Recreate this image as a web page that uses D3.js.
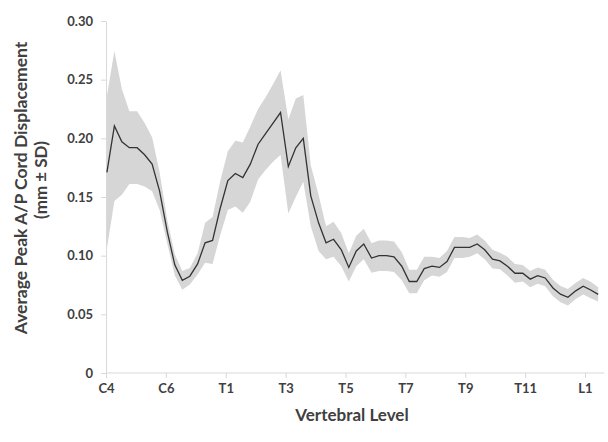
<!DOCTYPE html>
<html>
<head>
<meta charset="utf-8">
<script src="https://cdn.jsdelivr.net/npm/d3@7"></script>
<style>
  body { margin: 0; background: #fff; }
  text { font-family: Lato, "Open Sans", sans-serif; font-weight: bold; fill: #404040; }
</style>
</head>
<body>
<svg width="608" height="442"></svg>
<script>
// vertebral levels on the x axis (C4 = 0 ... L1 = 16), labelled every second level
const levelNames = ["C4", "C6", "T1", "T3", "T5", "T7", "T9", "T11", "L1"];
const levelTicks = [0, 2, 4, 6, 8, 10, 12, 14, 16];
const yTicks = [0, 0.05, 0.10, 0.15, 0.20, 0.25, 0.30];

// sample positions along the cord (vertebral level units)
const level = [0.03, 0.28, 0.53, 0.78, 1.04, 1.29, 1.54, 1.79, 2.05, 2.30,
  2.55, 2.80, 3.06, 3.31, 3.56, 3.81, 4.07, 4.32, 4.57, 4.82,
  5.08, 5.33, 5.58, 5.83, 6.09, 6.34, 6.59, 6.84, 7.10, 7.35,
  7.60, 7.86, 8.11, 8.36, 8.61, 8.87, 9.12, 9.37, 9.62, 9.88,
  10.13, 10.38, 10.63, 10.89, 11.14, 11.39, 11.64, 11.90, 12.15, 12.40,
  12.65, 12.91, 13.16, 13.41, 13.66, 13.92, 14.17, 14.42, 14.67, 14.93,
  15.18, 15.43, 15.69, 15.94, 16.19, 16.44];

// average peak A/P cord displacement (mm)
const mean = [0.171, 0.2105, 0.197, 0.192, 0.192, 0.186, 0.178, 0.155, 0.120, 0.092,
  0.079, 0.0825, 0.093, 0.111, 0.113, 0.140, 0.164, 0.170, 0.1665, 0.178,
  0.195, 0.204, 0.213, 0.222, 0.176, 0.192, 0.200, 0.151, 0.128, 0.111,
  0.114, 0.105, 0.090, 0.104, 0.110, 0.098, 0.100, 0.100, 0.099, 0.091,
  0.078, 0.078, 0.089, 0.091, 0.090, 0.095, 0.107, 0.107, 0.107, 0.110,
  0.105, 0.097, 0.0955, 0.091, 0.085, 0.085, 0.080, 0.083, 0.081, 0.0725,
  0.0672, 0.0645, 0.070, 0.074, 0.0707, 0.067];

// standard deviation (mm)
const sd = [0.065, 0.064, 0.045, 0.031, 0.031, 0.027, 0.023, 0.016, 0.010, 0.009,
  0.008, 0.007, 0.009, 0.017, 0.020, 0.023, 0.025, 0.028, 0.030, 0.032,
  0.030, 0.031, 0.033, 0.036, 0.040, 0.042, 0.037, 0.026, 0.024, 0.014,
  0.015, 0.014, 0.012, 0.013, 0.013, 0.0125, 0.013, 0.013, 0.013, 0.012,
  0.010, 0.010, 0.010, 0.008, 0.008, 0.009, 0.009, 0.009, 0.008, 0.008,
  0.008, 0.008, 0.007, 0.008, 0.008, 0.007, 0.007, 0.007, 0.007, 0.007,
  0.007, 0.007, 0.007, 0.007, 0.007, 0.006];

const svg = d3.select("svg");

const x = d3.scaleLinear().domain([0, 16]).range([106, 585]);
const y = d3.scaleLinear().domain([0, 0.3]).range([373, 21]);

const rows = level.map((l, i) => ({l: l, m: mean[i], s: sd[i]}));

// SD band
svg.append("path")
  .datum(rows)
  .attr("fill", "#d6d6d6")
  .attr("d", d3.area()
    .x(d => x(d.l))
    .y0(d => y(d.m - d.s))
    .y1(d => y(d.m + d.s)));

// y axis
const yAxis = svg.append("g")
  .attr("transform", "translate(106,0)")
  .call(d3.axisLeft(y)
    .tickValues(yTicks)
    .tickSize(5)
    .tickSizeOuter(0)
    .tickPadding(8)
    .tickFormat(d => d === 0 ? "0" : d3.format(".2f")(d)));

// x axis
const xAxis = svg.append("g")
  .attr("transform", "translate(0,373)")
  .call(d3.axisBottom(x)
    .tickValues(levelTicks)
    .tickSize(5)
    .tickSizeOuter(0)
    .tickPadding(6)
    .tickFormat((d, i) => levelNames[i]));
xAxis.select(".domain").remove();
xAxis.append("line")
  .attr("x1", x(0)).attr("x2", x(16.65))
  .attr("stroke", "#d9d9d9");

[yAxis, xAxis].forEach(g => {
  g.selectAll(".domain, line").attr("stroke", "#d9d9d9");
  g.selectAll("text").attr("font-size", 13).attr("fill", "#404040")
    .attr("font-family", "Lato, 'Open Sans', sans-serif").attr("font-weight", "bold");
});

// mean line
svg.append("path")
  .datum(rows)
  .attr("fill", "none")
  .attr("stroke", "#333")
  .attr("stroke-width", 1.3)
  .attr("d", d3.line()
    .x(d => x(d.l))
    .y(d => y(d.m)));

// titles
svg.append("text")
  .attr("transform", "translate(27,188) rotate(-90)")
  .attr("text-anchor", "middle")
  .attr("font-size", 17.5)
  .text("Average Peak A/P Cord Displacement");
svg.append("text")
  .attr("transform", "translate(47,180) rotate(-90)")
  .attr("text-anchor", "middle")
  .attr("font-size", 17)
  .text("(mm ± SD)");
svg.append("text")
  .attr("x", 352)
  .attr("y", 421)
  .attr("text-anchor", "middle")
  .attr("font-size", 17)
  .text("Vertebral Level");
</script>
</body>
</html>
